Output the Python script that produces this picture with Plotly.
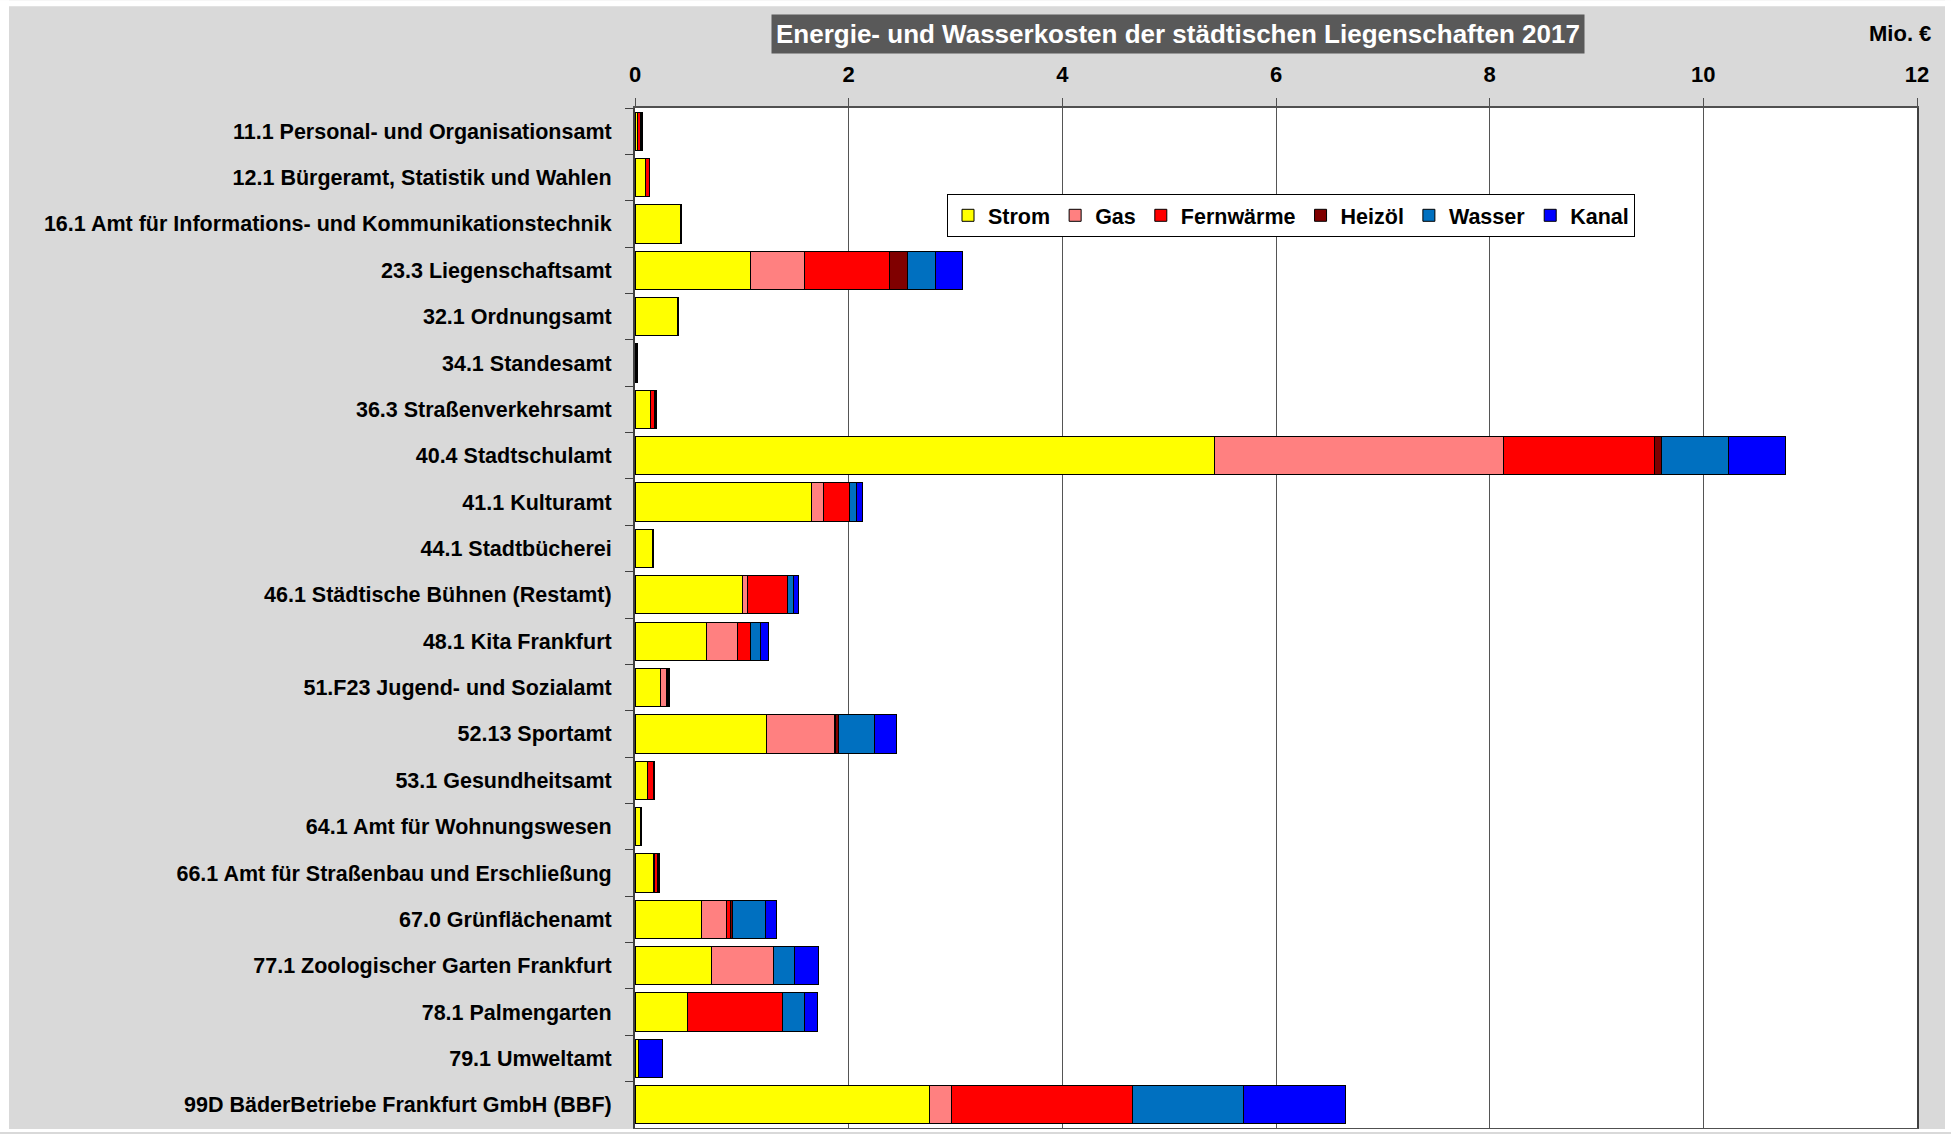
import plotly.graph_objects as go

categories = [
    "11.1 Personal- und Organisationsamt",
    "12.1 Bürgeramt, Statistik und Wahlen",
    "16.1 Amt für Informations- und Kommunikationstechnik",
    "23.3 Liegenschaftsamt",
    "32.1 Ordnungsamt",
    "34.1 Standesamt",
    "36.3 Straßenverkehrsamt",
    "40.4 Stadtschulamt",
    "41.1 Kulturamt",
    "44.1 Stadtbücherei",
    "46.1 Städtische Bühnen (Restamt)",
    "48.1 Kita Frankfurt",
    "51.F23 Jugend- und Sozialamt",
    "52.13 Sportamt",
    "53.1 Gesundheitsamt",
    "64.1 Amt für Wohnungswesen",
    "66.1 Amt für Straßenbau und Erschließung",
    "67.0 Grünflächenamt",
    "77.1 Zoologischer Garten Frankfurt",
    "78.1 Palmengarten",
    "79.1 Umweltamt",
    "99D BäderBetriebe Frankfurt GmbH (BBF)",
]

strom      = [0.025, 0.097, 0.425, 1.083, 0.400, 0.015, 0.146, 5.420, 1.648, 0.160, 1.005, 0.668, 0.240, 1.232, 0.118, 0.053, 0.171, 0.621, 0.718, 0.487, 0.034, 2.759]
gas        = [0.000, 0.000, 0.000, 0.502, 0.000, 0.000, 0.000, 2.710, 0.118, 0.000, 0.046, 0.290, 0.056, 0.634, 0.000, 0.004, 0.012, 0.234, 0.577, 0.000, 0.000, 0.200]
fernwaerme = [0.030, 0.035, 0.000, 0.799, 0.000, 0.005, 0.038, 1.410, 0.243, 0.000, 0.381, 0.125, 0.010, 0.015, 0.055, 0.000, 0.030, 0.040, 0.000, 0.889, 0.000, 1.694]
heizoel    = [0.006, 0.000, 0.000, 0.169, 0.000, 0.000, 0.000, 0.070, 0.000, 0.000, 0.000, 0.000, 0.000, 0.026, 0.000, 0.000, 0.000, 0.019, 0.000, 0.000, 0.000, 0.000]
wasser     = [0.005, 0.003, 0.005, 0.259, 0.005, 0.003, 0.008, 0.625, 0.063, 0.005, 0.050, 0.093, 0.008, 0.337, 0.003, 0.004, 0.007, 0.312, 0.197, 0.212, 0.003, 1.046]
kanal      = [0.005, 0.003, 0.005, 0.256, 0.005, 0.003, 0.006, 0.530, 0.056, 0.005, 0.047, 0.069, 0.007, 0.200, 0.003, 0.004, 0.006, 0.103, 0.221, 0.116, 0.222, 0.952]

series_names = ["Strom", "Gas", "Fernwärme", "Heizöl", "Wasser", "Kanal"]
series_values = [strom, gas, fernwaerme, heizoel, wasser, kanal]
series_colors = ["#FFFF00", "#FF8080", "#FF0000", "#800000", "#0070C0", "#0000FF"]

x_ticks = [0, 2, 4, 6, 8, 10, 12]

FONT = "Liberation Sans, Arial, sans-serif"

fig = go.Figure()
for name, vals, col in zip(series_names, series_values, series_colors):
    fig.add_trace(go.Bar(
        y=categories, x=vals, name=name, orientation="h",
        marker=dict(color=col, line=dict(color="#000000", width=1)),
    ))

W, H = 1951, 1134
ml, mr, mt, mb = 635, 34, 108, 4
pw, ph = W - ml - mr, H - mt - mb

def px(xp):
    return (xp - ml) / pw

def py(yp):
    return (H - mb - yp) / ph

fig.update_layout(
    width=W, height=H,
    margin=dict(l=ml, r=mr, t=mt, b=mb, pad=0),
    barmode="stack",
    bargap=0.175,
    paper_bgcolor="#D9D9D9",
    plot_bgcolor="#FFFFFF",
    font=dict(family=FONT, size=22, color="#000000"),
    showlegend=True,
    legend=dict(
        orientation="h", x=px(947), y=py(194), xanchor="left", yanchor="top",
        bgcolor="#FFFFFF", bordercolor="#000000", borderwidth=1,
        font=dict(family=FONT, size=21.5, color="#000000", weight="bold"),
        traceorder="normal", itemclick=False,
    ),
    xaxis=dict(
        side="top", range=[0, 12], tickvals=x_ticks,
        ticktext=[str(v) for v in x_ticks],
        showgrid=True, gridcolor="#555555", gridwidth=1,
        showline=True, linecolor="#505050", linewidth=2, mirror=True,
        ticks="outside", ticklen=8, tickcolor="#505050", tickwidth=1,
        tickfont=dict(family=FONT, size=22, color="#000000", weight="bold"),
        ticklabelstandoff=7, zeroline=False, fixedrange=True,
    ),
    yaxis=dict(
        autorange="reversed", type="category",
        showline=True, linecolor="#404040", linewidth=2, mirror=True,
        ticks="outside", ticklen=8, tickcolor="#404040", tickwidth=1,
        tickson="boundaries", showgrid=False,
        tickfont=dict(family=FONT, size=21.5, color="#000000", weight="bold"),
        ticklabelstandoff=17, fixedrange=True,
    ),
    annotations=[
        dict(text="Energie- und Wasserkosten der städtischen Liegenschaften 2017",
             xref="paper", yref="paper", x=px(1177.5), y=py(33.5),
             xanchor="center", yanchor="middle", showarrow=False,
             bgcolor="#595959", borderpad=4,
             font=dict(family=FONT, size=26, color="#FFFFFF", weight="bold")),
        dict(text="Mio. €", xref="paper", yref="paper", x=px(1933), y=py(33),
             xanchor="right", yanchor="middle", showarrow=False,
             font=dict(family=FONT, size=22, color="#000000", weight="bold")),
    ],
    shapes=[
        dict(type="rect", xref="paper", yref="paper", x0=px(0), x1=px(9), y0=py(H), y1=py(0),
             fillcolor="#FFFFFF", line=dict(width=0), layer="above"),
        dict(type="rect", xref="paper", yref="paper", x0=px(1945), x1=px(W), y0=py(H), y1=py(0),
             fillcolor="#FFFFFF", line=dict(width=0), layer="above"),
        dict(type="rect", xref="paper", yref="paper", x0=px(0), x1=px(W), y0=py(6), y1=py(0),
             fillcolor="#FFFFFF", line=dict(width=0), layer="above"),
        dict(type="rect", xref="paper", yref="paper", x0=px(0), x1=px(W), y0=py(H), y1=py(1131),
             fillcolor="#FFFFFF", line=dict(width=0), layer="above"),
    ],
)

fig.write_html(
    "out.html",
    config={"displayModeBar": False},
    post_script="document.body.style.margin='0';document.body.style.overflow='hidden';",
)
